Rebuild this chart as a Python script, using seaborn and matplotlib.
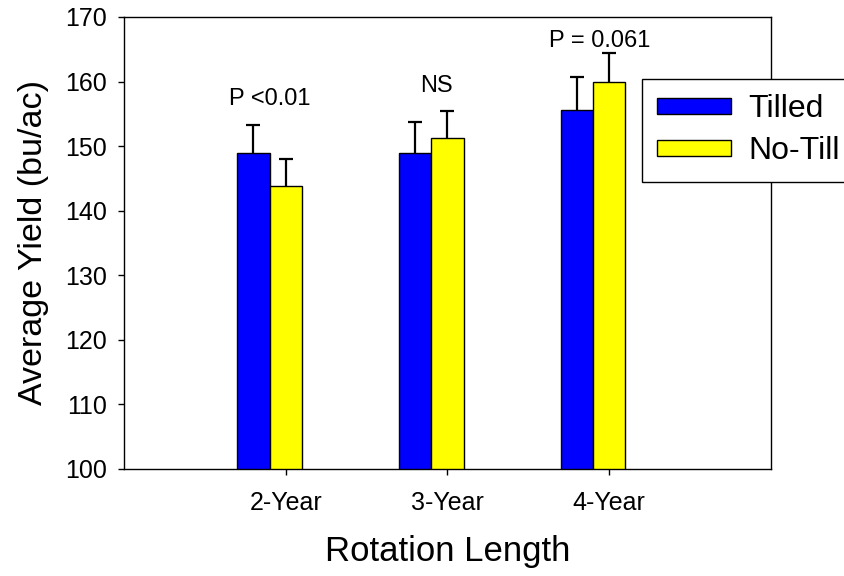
import matplotlib
matplotlib.use("Agg")
import matplotlib.pyplot as plt
import seaborn as sns
import pandas as pd
from matplotlib.patches import Patch

# Average corn yield by rotation length and tillage system
rotations = ["2-Year", "3-Year", "4-Year"]
tilled_yield = [148.9, 149.0, 155.6]
notill_yield = [143.9, 151.2, 160.0]
tilled_err = [4.3, 4.7, 5.1]
notill_err = [4.1, 4.2, 4.4]
significance = ["P <0.01", "NS", "P = 0.061"]
systems = ["Tilled", "No-Till"]
colors = ["#0000FF", "#FFFF00"]

df = pd.DataFrame({
    "Rotation": rotations * 2,
    "Tillage": [systems[0]] * 3 + [systems[1]] * 3,
    "Yield": tilled_yield + notill_yield,
    "Err": tilled_err + notill_err,
})

sns.set_theme(style="ticks")
plt.rcParams["font.family"] = ["Liberation Sans", "DejaVu Sans"]
plt.rcParams["text.color"] = "black"
plt.rcParams["axes.labelcolor"] = "black"
plt.rcParams["xtick.color"] = "black"
plt.rcParams["ytick.color"] = "black"

fig = plt.figure(figsize=(8.45, 5.76), dpi=100)
ax = fig.add_axes([0.1467, 0.1858, 0.7657, 0.7847])

sns.barplot(data=df, x="Rotation", y="Yield", hue="Tillage",
            order=rotations, hue_order=systems, palette=colors,
            width=0.4, edgecolor="black", linewidth=1.0,
            errorbar=None, legend=False, ax=ax, saturation=1)

# error bars drawn behind the bars so only the upper half shows
errs = [tilled_err, notill_err]
vals = [tilled_yield, notill_yield]
for cont, e, v in zip(ax.containers, errs, vals):
    for b in cont:
        b.set_zorder(2)
    xs = [b.get_x() + b.get_width() / 2 for b in cont]
    ax.errorbar(xs, v, yerr=e, fmt="none",
                ecolor="black", elinewidth=1.6, capsize=5, capthick=1.6,
                zorder=1)

# significance labels above each rotation
label_x = [0.0, 1.03, 2.04]
label_y = [156.4, 158.4, 165.4]
for x, y, s in zip(label_x, label_y, significance):
    ax.text(x, y, s, ha="center", va="baseline", fontsize=17, color="black")

ax.set_ylim(100, 170)
ax.set_yticks(range(100, 171, 10))
ax.set_xlim(-0.9, 3.1)
ax.set_xticks([i + 0.1 for i in range(len(rotations))])
ax.set_xticklabels(rotations)

ax.tick_params(axis="both", direction="out", length=4.5, width=1,
               colors="black", labelsize=18)
ax.tick_params(axis="y", pad=8)
ax.tick_params(axis="x", pad=11)
for sp in ax.spines.values():
    sp.set_visible(True)
    sp.set_color("black")
    sp.set_linewidth(1.0)

ax.set_xlabel("Rotation Length", fontsize=25, labelpad=15)
ax.set_ylabel("Average Yield (bu/ac)", fontsize=24.5, labelpad=11)

handles = [Patch(facecolor=c, edgecolor="black", linewidth=1) for c in colors]
leg = ax.legend(handles, systems, loc="upper left",
                bbox_to_anchor=(642 / 845, 1 - 79 / 576),
                bbox_transform=fig.transFigure, borderaxespad=0,
                fontsize=23, frameon=True, fancybox=False,
                handlelength=2.3, handleheight=0.42, handletextpad=0.55,
                borderpad=0.48, labelspacing=0.38)
leg.get_frame().set_edgecolor("black")
leg.get_frame().set_linewidth(1.0)
leg.get_frame().set_alpha(1)
for t in leg.get_texts():
    t.set_color("black")

fig.savefig("out.png", dpi=100)
